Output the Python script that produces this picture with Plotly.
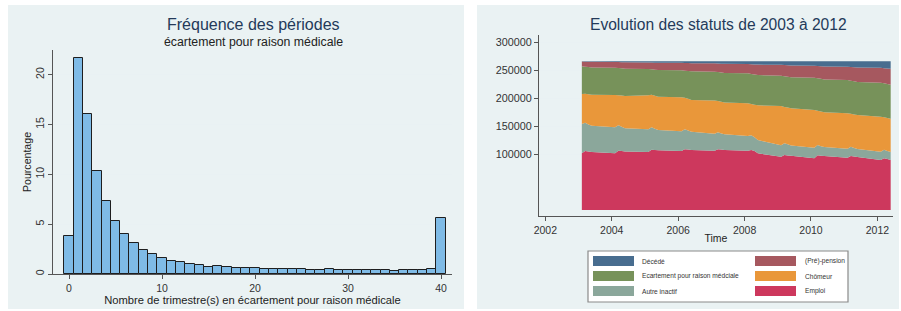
import plotly.graph_objects as go

W, H = 901, 311
FONT = "Liberation Sans, Arial, sans-serif"

# ---------------- Data: histogram (left) ----------------
trimestres = [0, 1, 2, 3, 4, 5, 6, 7, 8, 9, 10, 11, 12, 13, 14, 15, 16, 17, 18, 19, 20,
              21, 22, 23, 24, 25, 26, 27, 28, 29, 30, 31, 32, 33, 34, 35, 36, 37, 38, 39, 40]
pourcentage = [3.85, 21.7, 16.1, 10.3, 7.3, 5.3, 4.0, 3.1, 2.45, 2.0, 1.65, 1.35, 1.2, 1.05,
               0.9, 0.75, 0.8, 0.68, 0.63, 0.6, 0.57, 0.53, 0.5, 0.47, 0.47, 0.47, 0.4, 0.4,
               0.47, 0.4, 0.4, 0.38, 0.38, 0.38, 0.37, 0.33, 0.38, 0.37, 0.38, 0.48, 5.65]
hist_xticks = [0, 10, 20, 30, 40]
hist_yticks = [0, 5, 10, 15, 20]

# ---------------- Data: stacked areas (right) ----------------
time = [2003.1, 2003.2, 2003.3, 2003.4, 2004.1, 2004.2, 2004.3, 2004.4,
        2005.1, 2005.2, 2005.3, 2005.4, 2006.1, 2006.2, 2006.3, 2006.4,
        2007.1, 2007.2, 2007.3, 2007.4, 2008.1, 2008.2, 2008.3, 2008.4,
        2009.1, 2009.2, 2009.3, 2009.4, 2010.1, 2010.2, 2010.3, 2010.4,
        2011.1, 2011.2, 2011.3, 2011.4, 2012.1, 2012.2, 2012.3, 2012.4]
emploi = [101300, 105400, 104500, 103800, 101300, 106000, 105300, 104800,
          103700, 107800, 107200, 106700, 105400, 108500, 108000, 107500,
          106000, 108500, 108000, 107500, 106000, 107200, 105500, 101300,
          95300, 98300, 97500, 96800, 92400, 97800, 97000, 96400,
          93500, 96500, 95500, 94800, 89300, 92400, 91000, 89300]
autre_inactif = [52500, 50700, 48500, 47000, 46600, 45500, 43700, 41300,
                 40600, 40100, 38300, 36300, 35300, 35800, 34000, 32500,
                 30500, 30400, 29000, 28000, 26300, 26400, 24500, 23900,
                 20400, 20900, 20000, 18700, 19000, 18400, 17000, 16100,
                 16100, 16700, 15500, 14200, 14900, 15400, 14500, 14200]
chomeur = [53700, 51900, 54000, 55500, 57800, 53700, 55800, 57900,
           60900, 58400, 59000, 59700, 60900, 56700, 57000, 56800,
           59500, 56100, 56500, 56800, 58600, 56200, 58500, 62100,
           70300, 65300, 65700, 66400, 67500, 61300, 62000, 62300,
           63400, 58800, 60000, 60900, 62700, 57900, 59000, 59800]
ecartement = [49600, 48500, 48900, 48900, 48900, 48800, 48700, 48900,
              47100, 45400, 46600, 47900, 48400, 48400, 49800, 51300,
              51500, 51800, 52600, 53000, 53700, 53700, 54000, 54100,
              54300, 54900, 55300, 55700, 57800, 58200, 58700, 58800,
              59600, 59400, 59200, 59100, 60900, 60900, 60900, 60900]
pension = [8600, 9000, 9400, 9900, 10300, 10700, 11000, 11400,
           11800, 12200, 12600, 12900, 13300, 13700, 14100, 14600,
           14900, 15300, 15700, 16200, 16600, 17400, 18100, 18800,
           19500, 20000, 20500, 21000, 21500, 22100, 22700, 23400,
           23900, 24600, 25300, 26000, 26600, 27200, 27900, 28500]
decede = [300, 500, 700, 900, 1100, 1300, 1500, 1700,
          1900, 2100, 2300, 2500, 2700, 2900, 3100, 3300,
          3600, 3900, 4200, 4500, 4800, 5100, 5400, 5800,
          6200, 6600, 7000, 7400, 7800, 8200, 8600, 9000,
          9500, 10000, 10500, 11000, 11600, 12200, 12700, 13300]
area_xticks = [2002, 2004, 2006, 2008, 2010, 2012]
area_yticks = [100000, 150000, 200000, 250000, 300000]

series_names = ["Emploi", "Autre inactif", "Chômeur",
                "Ecartement pour raison médciale", "(Pré)-pension", "Décédé"]
series_values = [emploi, autre_inactif, chomeur, ecartement, pension, decede]
series_colors = ["#cd385d", "#8ba79b", "#e9973a", "#77925a", "#a6585f", "#486d8f"]

# legend layout (2 columns x 3 rows, as in the reference)
legend_order = ["Décédé", "(Pré)-pension", "Ecartement pour raison médciale",
                "Chômeur", "Autre inactif", "Emploi"]


def px(x):
    return x / W


def py(y):
    return 1 - y / H


fig = go.Figure()

fig.add_trace(go.Bar(
    x=trimestres, y=pourcentage, width=1,
    marker=dict(color="#7fbbe6", line=dict(color="#1e1e1e", width=1)),
    xaxis="x", yaxis="y", showlegend=False, name="Pourcentage"))

for name, vals, col in zip(series_names, series_values, series_colors):
    fig.add_trace(go.Scatter(
        x=time, y=vals, name=name, stackgroup="statuts", mode="none",
        fillcolor=col, xaxis="x2", yaxis="y2", showlegend=False))

axis_common = dict(showline=True, linecolor="#555", linewidth=1, ticks="outside",
                   ticklen=4, tickcolor="#555", zeroline=False, fixedrange=True,
                   automargin=False)

fig.update_layout(
    width=W, height=H, margin=dict(l=0, r=0, t=0, b=0),
    paper_bgcolor="white", plot_bgcolor="white",
    font=dict(family=FONT, color="#222"),
    bargap=0, showlegend=False, template="none",
    xaxis=dict(domain=[px(53), px(452)], range=[-1.72, 41.18], anchor="y",
               tickvals=hist_xticks, showgrid=False,
               tickfont=dict(size=10.5, color="#333"),
               title=dict(text="Nombre de trimestre(s) en écartement pour raison médicale",
                          font=dict(size=11.2, color="#222"), standoff=0),
               **axis_common),
    yaxis=dict(domain=[py(274), py(50)], range=[0, 22.47], anchor="x",
               tickvals=hist_yticks, tickangle=-90, showgrid=True,
               gridcolor="#e9f1f3", gridwidth=1,
               tickfont=dict(size=10.5, color="#333"),
               title=dict(text="Pourcentage", font=dict(size=10.6, color="#222"),
                          standoff=0),
               **axis_common),
    xaxis2=dict(domain=[px(539), px(893)], range=[2001.81, 2012.47], anchor="y2",
                tickvals=area_xticks, showgrid=False,
                tickfont=dict(size=10.5, color="#333"),
                title=dict(text="Time", font=dict(size=10.5, color="#222"), standoff=0),
                **axis_common),
    yaxis2=dict(domain=[py(216), py(35)], range=[-10900, 313200], anchor="x2",
                tickvals=area_yticks, tickformat="d", showgrid=True,
                gridcolor="#e9f1f3", gridwidth=1,
                tickfont=dict(size=10.8, color="#333"),
                **axis_common),
)

shapes = [
    # panel backgrounds
    dict(type="rect", xref="paper", yref="paper", x0=px(8), x1=px(464), y0=py(309), y1=py(5),
         fillcolor="#eaf2f3", line=dict(width=0), layer="below"),
    dict(type="rect", xref="paper", yref="paper", x0=px(477), x1=px(899), y0=py(309), y1=py(5),
         fillcolor="#eaf2f3", line=dict(width=0), layer="below"),
    # legend box
    dict(type="rect", xref="paper", yref="paper", x0=px(588), x1=px(848), y0=py(302), y1=py(251),
         fillcolor="white", line=dict(color="#8a8a8a", width=1.2), layer="above"),
]

annotations = [
    dict(text="Fréquence des périodes", x=px(253), y=py(25), xref="paper", yref="paper",
         showarrow=False, xanchor="center", yanchor="middle",
         font=dict(size=16, color="#243a5a", family=FONT)),
    dict(text="écartement pour raison médicale", x=px(253), y=py(42), xref="paper", yref="paper",
         showarrow=False, xanchor="center", yanchor="middle",
         font=dict(size=12.3, color="#222", family=FONT)),
    dict(text="Evolution des statuts de 2003 à 2012", x=px(718), y=py(25), xref="paper",
         yref="paper", showarrow=False, xanchor="center", yanchor="middle",
         font=dict(size=15.6, color="#243a5a", family=FONT)),
]

color_of = dict(zip(series_names, series_colors))
col_sw_x = [593, 755]
col_txt_x = [640, 803]
row_y = [261, 276, 291]
for i, name in enumerate(legend_order):
    r, c = divmod(i, 2)
    shapes.append(dict(type="rect", xref="paper", yref="paper",
                       x0=px(col_sw_x[c]), x1=px(col_sw_x[c] + 41),
                       y0=py(row_y[r] + 5), y1=py(row_y[r] - 5),
                       fillcolor=color_of[name], line=dict(width=0), layer="above"))
    annotations.append(dict(text=name, x=px(col_txt_x[c]), y=py(row_y[r]), xref="paper",
                            yref="paper", showarrow=False, xanchor="left", yanchor="middle",
                            font=dict(size=6.6, color="#333", family=FONT)))

fig.update_layout(shapes=shapes, annotations=annotations)

fig.write_html("out.html", config={"displayModeBar": False},
               post_script="document.body.style.margin='0';document.body.style.padding='0';")
